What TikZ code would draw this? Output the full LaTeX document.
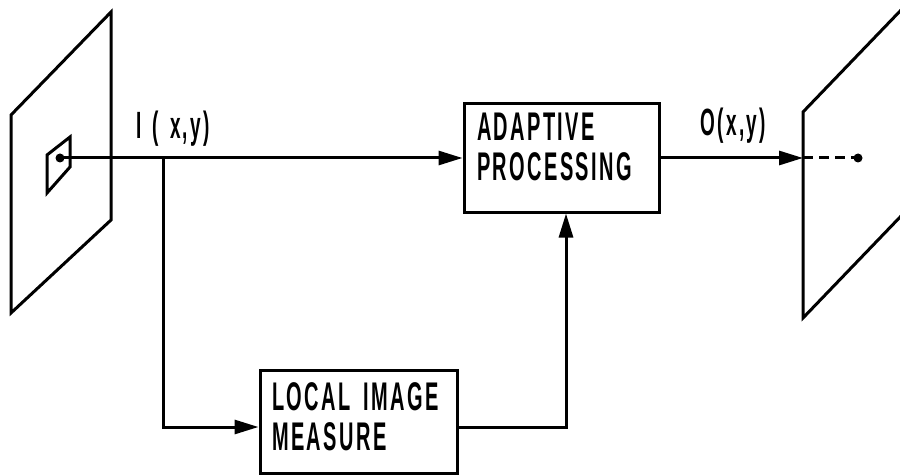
\documentclass[tikz,border=0pt]{standalone}
\usepackage{fontspec}
\setmainfont{Liberation Sans}[FakeStretch=0.5, LetterSpace=6]
\usetikzlibrary{arrows.meta}
\begin{document}
\begin{tikzpicture}[x=0.5pt,y=-0.5pt, line width=1.5pt,
  txt/.style={font=\fontsize{20}{20}\selectfont\bfseries},
  box/.style={draw, rectangle, align=left, txt},
  arr/.style={-{Triangle[length=12pt,width=7pt]}},
  lbl/.style={inner sep=0pt, anchor=base west, font=\fontsize{19}{20}\selectfont\bfseries},
  dot/.style={circle, fill, inner sep=0pt, minimum size=4.5pt},
  dashline/.style={dash pattern=on 5pt off 3pt}]
\useasboundingbox (0,0) rectangle (900,476);
\clip (0,0) rectangle (900,476);
% input image plane
\draw (11,115) -- (111,12) -- (111,220) -- (11,313) -- cycle;
\draw (47,155) -- (70,137) -- (70,167) -- (47,193) -- cycle;
% output image plane
\draw (803,112) -- (903,8) -- (903,214) -- (803,318) -- cycle;
% boxes
\node[box, minimum width=97.5pt, minimum height=54pt, text width=84.5pt, inner xsep=6.5pt, text depth=31pt] (ap) at (561.5,158) {ADAPTIVE\\PROCESSING};
\node[box, minimum width=98.5pt, minimum height=51.5pt, text width=86.5pt, inner xsep=6pt, text depth=25pt] (lm) at (358.5,421.5) {LOCAL IMAGE\\MEASURE};
% labels
\node[lbl] (lin) at (135,139) {\spaceskip=5.5pt\relax I ( x,y)};
\node[lbl] (lout) at (699,135) {O(x,y)};
% points
\node[dot] (src) at (60,158) {};
\node[dot] (dst) at (858,158) {};
\coordinate (br) at (163,158);
\coordinate (pe) at (803,158);
% connectors
\draw[arr] (src.center) -- (ap.west);
\draw[arr] (br) |- ([yshift=-2.75pt]lm.west);
\draw[arr] ([yshift=-2.75pt]lm.east) -| ([xshift=2.25pt]ap.south);
\draw[arr] (ap.east) -- (pe);
\draw[dashline] (pe) -- (dst.center);
\end{tikzpicture}
\end{document}
